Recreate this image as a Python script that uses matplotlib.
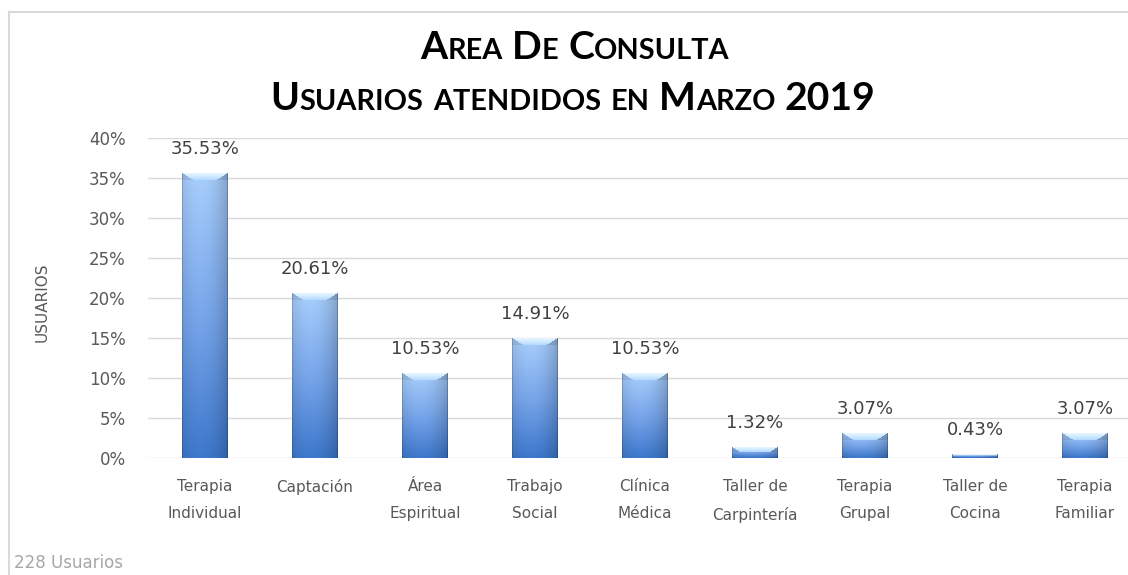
import matplotlib
matplotlib.use('Agg')
import matplotlib.pyplot as plt
import numpy as np
from matplotlib.lines import Line2D
from matplotlib.transforms import IdentityTransform

# ---------------- data ----------------
categories = ["Terapia\nIndividual", "Captación", "Área\nEspiritual", "Trabajo\nSocial",
              "Clínica\nMédica", "Taller de\nCarpintería", "Terapia\nGrupal",
              "Taller de\nCocina", "Terapia\nFamiliar"]
values = [35.53, 20.61, 10.53, 14.91, 10.53, 1.32, 3.07, 0.43, 3.07]
value_labels = ["35.53%", "20.61%", "10.53%", "14.91%", "10.53%", "1.32%", "3.07%", "0.43%", "3.07%"]
yticks = [0, 5, 10, 15, 20, 25, 30, 35, 40]
ytick_labels = ["0%", "5%", "10%", "15%", "20%", "25%", "30%", "35%", "40%"]
title1 = "Area De Consulta"
title2 = "Usuarios atendidos en Marzo 2019"
ylabel = "USUARIOS"
footnote = "228 Usuarios"

W, H = 1128, 575
fig = plt.figure(figsize=(W / 100, H / 100), dpi=100)
fig.patch.set_facecolor('white')

ax_left, ax_bottom_px, ax_top_px = 148, 458, 138
ax = fig.add_axes([ax_left / W, (H - ax_bottom_px) / H, (W - ax_left) / W,
                   (ax_bottom_px - ax_top_px) / H])
ax.set_facecolor('none')
x = np.arange(len(values))
bar_w = 46 / 110
bars = ax.bar(x, values, width=bar_w, color='none', edgecolor='none', zorder=3)

xlim = (-(205 - ax_left) / 110, (W - 205) / 110)
ylim = (0, 40)
ax.set_xlim(*xlim)
ax.set_ylim(*ylim)

for s in ax.spines.values():
    s.set_visible(False)
ax.yaxis.grid(True, color='#d9d9d9', lw=1.0)
ax.set_axisbelow(True)

ax.set_yticks(yticks, ytick_labels)
ax.tick_params(axis='y', length=0, pad=16, labelsize=12, labelcolor='#595959')
ax.set_xticks(x, categories, linespacing=2.05)
ax.tick_params(axis='x', length=0, pad=15, labelsize=11, labelcolor='#595959')

# ---------------- gradient bars ----------------
def bar_image(nx, ny):
    t = np.linspace(0, 1, ny)[:, None, None]
    top = np.array([0.66, 0.81, 0.99])
    mid = np.array([0.47, 0.65, 0.92])
    bot = np.array([0.24, 0.47, 0.80])
    base = np.where(t < 0.5, top * (1 - 2 * t) + mid * (2 * t),
                    mid * (2 - 2 * t) + bot * (2 * t - 1))
    u = np.linspace(0, 1, nx)[None, :, None]
    shade = 0.80 + 0.20 * np.clip(1 - ((u - 0.4) / 0.6) ** 2, 0, 1)
    img = base * shade * np.ones((ny, nx, 1))
    img[:, 0, :] *= 0.85
    img[:, -1, :] *= 0.80
    b = int(min(7, max(1, ny // 2)))
    for r in range(b):
        c0 = int(round(r * 1.6)) + 1
        c1 = nx - 1 - c0
        f = r / max(b - 1, 1)
        hi = np.array([0.90, 0.96, 1.0]) * (1 - f) + np.array([0.72, 0.86, 1.0]) * f
        if c1 > c0:
            img[r, c0:c1 + 1, :] = hi
        img[r, :c0, :] *= 0.92
        img[r, c1 + 1:, :] *= 0.90
    return np.clip(img, 0, 1)

px_per_unit_y = (ax_bottom_px - ax_top_px) / (ylim[1] - ylim[0])
for rect in bars:
    x0 = rect.get_x()
    w = rect.get_width()
    h = rect.get_height()
    ny = max(2, int(round(h * px_per_unit_y)))
    img = bar_image(46, ny)
    ax.imshow(img, extent=(x0, x0 + w, 0, h), aspect='auto',
              interpolation='bilinear', zorder=3)
ax.set_xlim(*xlim)
ax.set_ylim(*ylim)

ax.bar_label(bars, labels=value_labels, padding=11, fontsize=13, color='#404040')

# ---------------- texts ----------------
fig.text(42 / W, 1 - 302 / H, ylabel, rotation=90, va='center', ha='center',
         fontsize=11, color='#595959')
fig.text(14 / W, 1 - 563 / H, footnote, va='center', ha='left',
         fontsize=12, color='#a6a6a6')

# frame (left and top edges visible)
fig.add_artist(Line2D([8.5 / W, 8.5 / W], [0, 1 - 11.5 / H], transform=fig.transFigure,
                      color='#d9d9d9', lw=1.5))
fig.add_artist(Line2D([8.5 / W, 1], [1 - 11.5 / H, 1 - 11.5 / H], transform=fig.transFigure,
                      color='#d9d9d9', lw=1.5))

renderer = fig.canvas.get_renderer()
TFAM = 'Lato'
RATIO = 0.74


def measure(s, size):
    t = fig.text(0, 0, s, fontsize=size, fontweight='bold', family=TFAM,
                 transform=IdentityTransform())
    w = t.get_window_extent(renderer).width
    t.remove()
    return w


def runs_of(word):
    runs = []
    for ch in word:
        kind = 's' if ch.islower() else 'b'
        c = ch.upper()
        if runs and runs[-1][0] == kind:
            runs[-1][1] += c
        else:
            runs.append([kind, c])
    return runs


def line_width(text, big):
    small = big * RATIO
    sp = measure("A A", big) - measure("AA", big)
    total = 0
    words = text.split(' ')
    for i, wd in enumerate(words):
        for kind, s in runs_of(wd):
            total += measure(s, big if kind == 'b' else small)
        if i < len(words) - 1:
            total += sp
    return total


def draw_smallcaps(text, cx, base_y_top, big):
    small = big * RATIO
    sp = measure("A A", big) - measure("AA", big)
    total = line_width(text, big)
    xpos = cx - total / 2
    ypix = H - base_y_top
    words = text.split(' ')
    for i, wd in enumerate(words):
        for kind, s in runs_of(wd):
            size = big if kind == 'b' else small
            fig.text(xpos, ypix, s, fontsize=size, fontweight='bold', family=TFAM,
                     va='baseline', ha='left', color='black', transform=IdentityTransform())
            xpos += measure(s, size)
        if i < len(words) - 1:
            xpos += sp


base_size = 20
w2 = line_width(title2, base_size)
big = base_size * 603 / w2
draw_smallcaps(title1, 575, 59, big)
draw_smallcaps(title2, 573, 110, big)

fig.savefig('out.png', dpi=100)
